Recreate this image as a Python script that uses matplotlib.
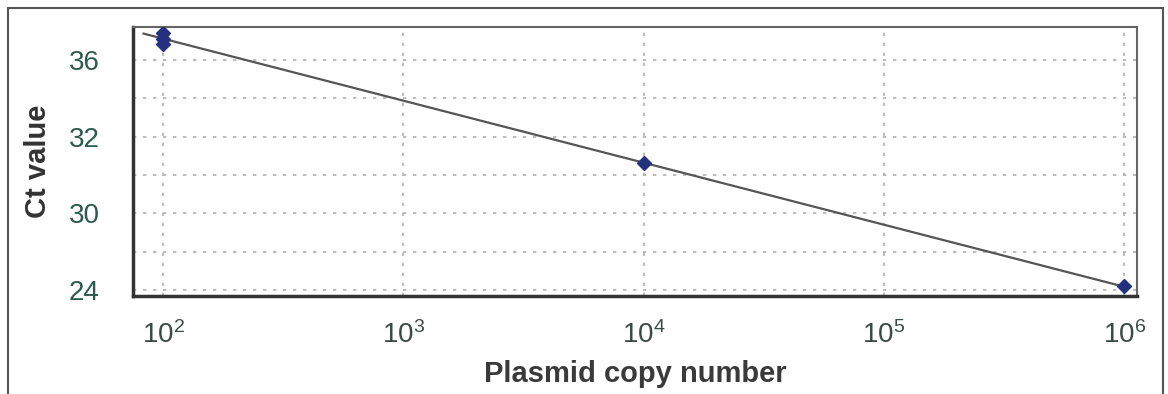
import matplotlib
matplotlib.use('Agg')
import matplotlib.pyplot as plt
import numpy as np
from matplotlib.patches import Rectangle

plt.rcParams['font.family'] = 'Liberation Sans'
plt.rcParams['mathtext.fontset'] = 'custom'
plt.rcParams['mathtext.rm'] = 'Liberation Sans'
plt.rcParams['mathtext.it'] = 'Liberation Sans'

# data
copies = [1e2, 1e2, 1e2, 1e4, 1e6]
ct = [37.4, 37.1, 36.8, 30.6, 24.2]

ytick_pos = [36, 32, 28, 24]
ytick_labels = ['36', '32', '30', '24']
xtick_pos = [1e2, 1e3, 1e4, 1e5, 1e6]
xtick_labels = ['10$^{2}$', '10$^{3}$', '10$^{4}$', '10$^{5}$', '10$^{6}$']

# regression line
slope, icpt = np.polyfit(np.log10(copies), ct, 1)
line_x = np.array([83, 1e6])
line_y = slope * np.log10(line_x) + icpt

fig = plt.figure(figsize=(11.68, 3.94), dpi=100)
ax = fig.add_axes([133/1168, 1 - 296/394, (1137-133)/1168, (296-27)/394])

ax.plot(line_x, line_y, color='#555555', lw=1.6, zorder=3)
ax.plot(copies, ct, 'D', color='#24317e', ms=7.5, zorder=4)

ax.set_xscale('log')
ax.set_xlim(75, 1.13e6)
ax.set_ylim(23.7, 37.7)
ax.set_xticks(xtick_pos)
ax.set_xticklabels(xtick_labels)
ax.minorticks_off()
ax.set_yticks(ytick_pos)
ax.set_yticklabels(ytick_labels)
ax.set_yticks([26, 30, 34], minor=True)
ax.grid(True, which='both', axis='y', color='#b0b0b0', ls=(0, (2, 4)), lw=1.2)
ax.grid(True, which='major', axis='x', color='#b0b0b0', ls=(0, (2, 4)), lw=1.2)
ax.tick_params(axis='both', which='both', length=0)
ax.tick_params(axis='y', labelsize=20, labelcolor='#2c5a4c', pad=24)
ax.tick_params(axis='x', labelsize=20, labelcolor='#3a4a44', pad=18)

for s in ['left', 'bottom']:
    ax.spines[s].set_color('#333333')
    ax.spines[s].set_linewidth(2.5)
for s in ['top', 'right']:
    ax.spines[s].set_color('#666666')
    ax.spines[s].set_linewidth(1.5)

ax.set_ylabel('Ct value', fontsize=21, fontweight='bold', color='#333333', labelpad=12)
ax.set_xlabel('Plasmid copy number', fontsize=21, fontweight='bold', color='#3a3a3a', labelpad=8)

fig.patches.append(Rectangle((8/1168, -0.02), (1163-8)/1168, 1 - 8/394 + 0.02,
                             transform=fig.transFigure, fill=False,
                             edgecolor='#555555', lw=1.5))

fig.savefig('out.png', dpi=100)
